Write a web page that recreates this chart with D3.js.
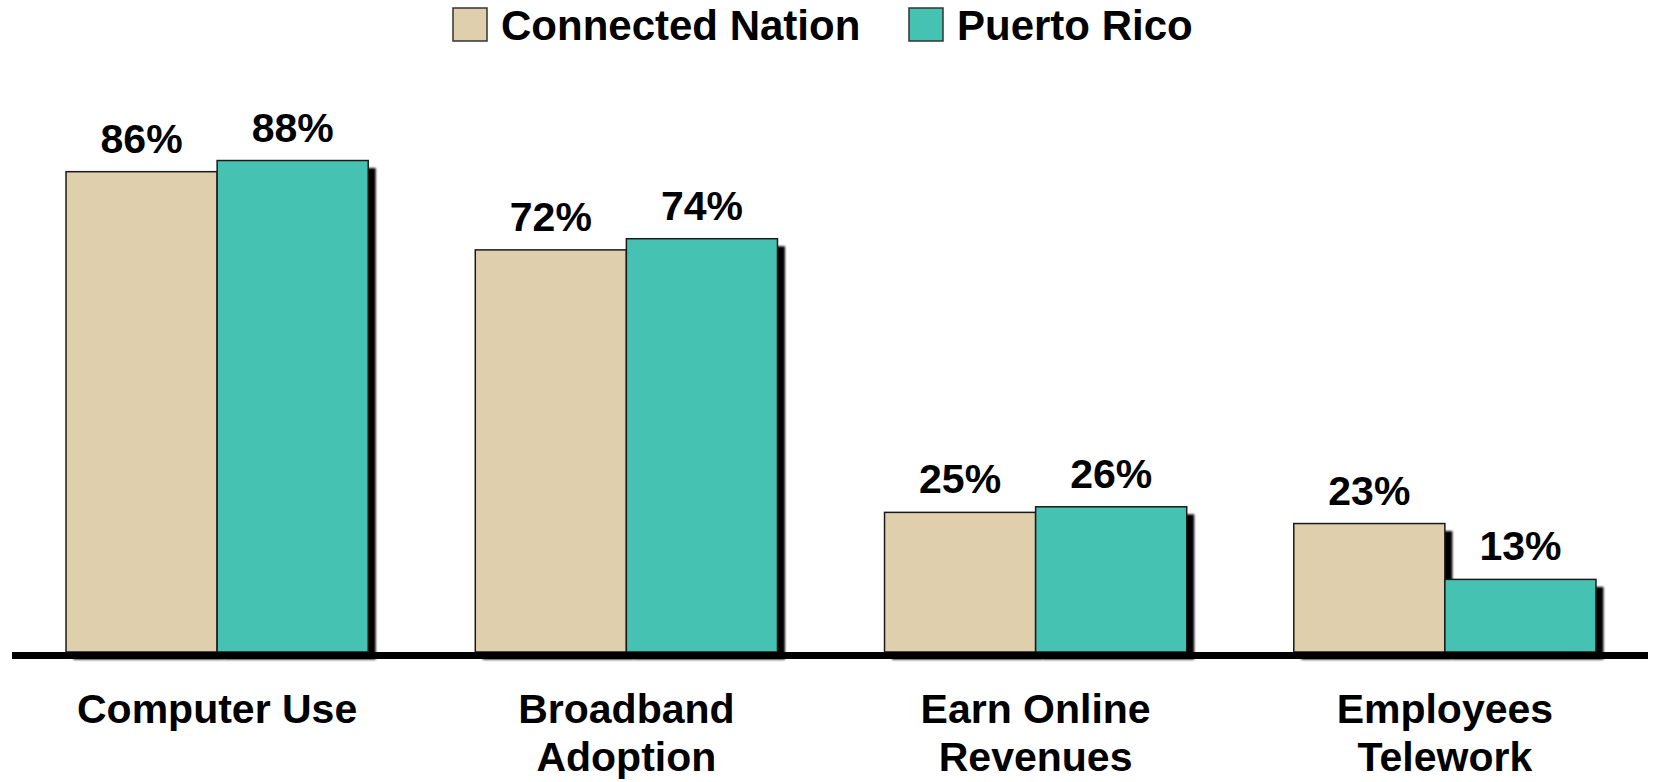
<!DOCTYPE html>
<html>
<head>
<meta charset="utf-8">
<style>
body { margin: 0; background: #fff; }
svg text { font-family: "Liberation Sans", Arial, sans-serif; font-weight: bold; fill: #000; }
</style>
</head>
<body>
<div id="graph"></div>
<script src="https://d3js.org/d3.v7.min.js"></script>
<script>
// Chart data
var categories = ["Computer Use", "Broadband Adoption", "Earn Online Revenues", "Employees Telework"];
var categoryLines = [["Computer Use"], ["Broadband", "Adoption"], ["Earn Online", "Revenues"], ["Employees", "Telework"]];
var seriesNames = ["Connected Nation", "Puerto Rico"];
var connectedNation = [86, 72, 25, 23];
var puertoRico = [88, 74, 26, 13];
var seriesColors = ["#E0CFAD", "#46C2B3"];

var width = 1653, height = 782;

var svg = d3.select("#graph")
            .append("svg")
            .attr("width", width)
            .attr("height", height);

// drop shadow for bars
var defs = svg.append("defs");
defs.append("filter")
    .attr("id", "blur")
    .attr("x", "-10%").attr("y", "-10%")
    .attr("width", "120%").attr("height", "120%")
    .append("feGaussianBlur")
    .attr("stdDeviation", 0.8);

// scales
var x0 = d3.scaleBand()
           .domain(categories)
           .range([12.5, 1649.5])
           .paddingInner(0.2616)
           .paddingOuter(0.1308);

var x1 = d3.scaleBand()
           .domain(seriesNames)
           .range([0, x0.bandwidth()]);

var y = d3.scaleLinear()
          .domain([0, 100])
          .range([652, 93.5]);

var color = d3.scaleOrdinal().domain(seriesNames).range(seriesColors);

var data = categories.map(function(c, i) {
  return { cat: c, values: [
    { name: seriesNames[0], value: connectedNation[i] },
    { name: seriesNames[1], value: puertoRico[i] }
  ]};
});

var groups = svg.selectAll(".group")
                .data(data)
                .enter().append("g")
                .attr("class", "group")
                .attr("transform", function(d) { return "translate(" + x0(d.cat) + ",0)"; });

// each bar: shadow then bar, in series order
groups.each(function(d) {
  var g = d3.select(this);
  d.values.forEach(function(v) {
    g.append("rect")
     .attr("x", x1(v.name) + 7.5)
     .attr("y", y(v.value) + 7.5)
     .attr("width", x1.bandwidth())
     .attr("height", y(0) - y(v.value))
     .attr("fill", "#000")
     .attr("filter", "url(#blur)");
    g.append("rect")
     .attr("x", x1(v.name))
     .attr("y", y(v.value))
     .attr("width", x1.bandwidth())
     .attr("height", y(0) - y(v.value))
     .attr("fill", color(v.name))
     .attr("stroke", "#1a1a1a")
     .attr("stroke-width", 1.5);
  });
});

// value labels
groups.selectAll(".val")
      .data(function(d) { return d.values; })
      .enter().append("text")
      .attr("class", "val")
      .attr("x", function(v) { return x1(v.name) + x1.bandwidth() / 2; })
      .attr("y", function(v) { return y(v.value) - 19; })
      .attr("text-anchor", "middle")
      .style("font-size", "41px")
      .text(function(v) { return v.value + "%"; });

// baseline
svg.append("line")
   .attr("x1", 12)
   .attr("x2", 1648)
   .attr("y1", 655.5)
   .attr("y2", 655.5)
   .attr("stroke", "#000")
   .attr("stroke-width", 7);

// category labels
categories.forEach(function(c, i) {
  var t = svg.append("text")
             .attr("x", x0(c) + x0.bandwidth() / 2)
             .attr("y", 723)
             .attr("text-anchor", "middle")
             .style("font-size", "41px");
  categoryLines[i].forEach(function(line, j) {
    t.append("tspan")
     .attr("x", x0(c) + x0.bandwidth() / 2)
     .attr("dy", j === 0 ? 0 : 48)
     .text(line);
  });
});

// legend
var legendX = [453, 909];
var legend = svg.selectAll(".legend")
                .data(seriesNames)
                .enter().append("g")
                .attr("class", "legend")
                .attr("transform", function(d, i) { return "translate(" + legendX[i] + ",8)"; });

legend.append("rect")
      .attr("width", 34)
      .attr("height", 33)
      .attr("fill", function(d) { return color(d); })
      .attr("stroke", "#333")
      .attr("stroke-width", 1.5);

legend.append("text")
      .attr("x", 48)
      .attr("y", 32)
      .style("font-size", "42px")
      .text(function(d) { return d; });
</script>
</body>
</html>
